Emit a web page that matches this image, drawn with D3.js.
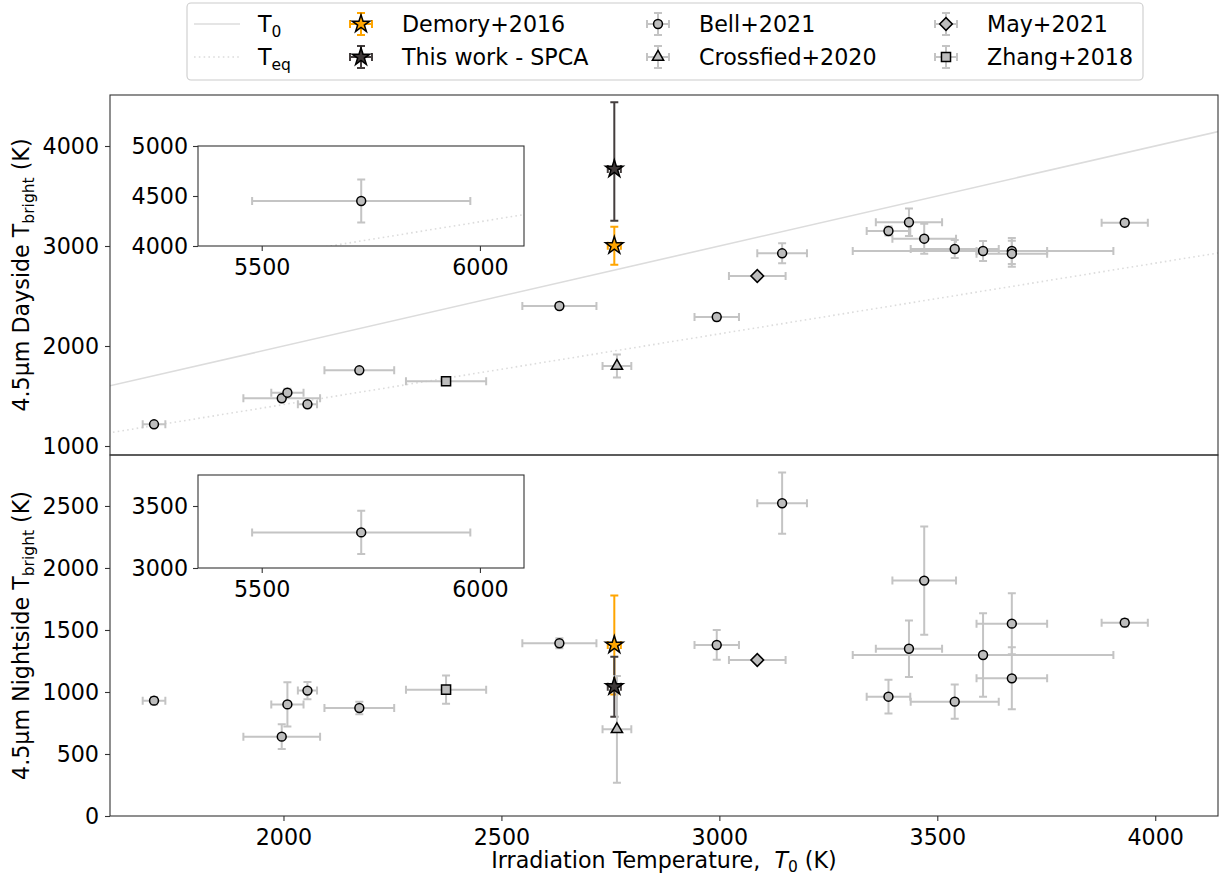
<!DOCTYPE html>
<html>
<head>
<meta charset="utf-8">
<script src="https://cdn.jsdelivr.net/npm/d3@7"></script>
<style>
  body { margin: 0; background: #fff; }
  svg { display: block; font-family: "DejaVu Sans", sans-serif; }
</style>
</head>
<body>
<div id="chart"></div>
<script>
// ---- data ----
// Bell+2021 (last point is the hot planet shown in the insets)
const bellT0       = [1703, 1996, 2009, 2055, 2174, 2633, 2994, 3144, 3388, 3435, 3470, 3540, 3605, 3671, 3671, 3930, 5728];
const bellT0Err    = [26, 88, 37, 22, 80, 85, 51, 57, 50, 76, 73, 101, 299, 81, 81, 53, 250];
const bellDay      = [1217, 1477, 1533, 1417, 1757, 2400, 2290, 2927, 3150, 3237, 3073, 2970, 2950, 2950, 2923, 3233, 4450];
const bellDayErr   = [25, 30, 40, 30, 25, 30, 35, 100, 45, 137, 150, 90, 100, 130, 130, 35, 215];
const bellNight    = [930, 640, 900, 1011, 871, 1393, 1379, 2522, 962, 1349, 1898, 922, 1298, 1551, 1110, 1559, 3287];
const bellNightErr = [30, 100, 178, 70, 50, 40, 120, 247, 136, 228, 436, 138, 336, 246, 250, 30, 175];

const demoryT0 = [2759], demoryT0Err = [15];
const demoryDay = [3003], demoryDayErr = [190];
const demoryNight = [1379], demoryNightErr = [400];

const spcaT0 = [2759], spcaT0Err = [15];
const spcaDay = [3770], spcaDayErrLo = [517], spcaDayErrHi = [667];
const spcaNight = [1043], spcaNightErr = [242];

const crossT0 = [2765], crossT0Err = [33];
const crossDay = [1800], crossDayErr = [115];
const crossNight = [699], crossNightErr = [430];

const mayT0 = [3087], mayT0Err = [65];
const mayDay = [2700], mayDayErr = [20];
const mayNight = [1258], mayNightErr = [18];

const zhangT0 = [2373], zhangT0Err = [92];
const zhangDay = [1647], zhangDayErr = [20];
const zhangNight = [1019], zhangNightErr = [114];

// tick values
const xTicks = [2000, 2500, 3000, 3500, 4000];
const dayTicks = [1000, 2000, 3000, 4000];
const nightTicks = [0, 500, 1000, 1500, 2000, 2500];
const insetXTicks = [5500, 6000];
const insetDayTicks = [4000, 4500, 5000];
const insetNightTicks = [3000, 3500];

// range of the model lines (T0 and Teq = T0/sqrt2)
const modelT0 = [1000, 7000];

// ---- layout ----
const width = 1220, height = 877;
const plotL = 110, plotR = 1218, plotT = 95, plotM = 455, plotB = 816;
const inL = 198, inR = 524;
const fs = 22.2, fsSub = 15.5;
const barGray = "#c4c4c4", markGray = "#bdbdbd", dark = "#3e3838";

const x = d3.scaleLinear([1602, 4144], [plotL, plotR]);
const yDay = d3.scaleLinear([910, 4510], [plotM, plotT]);
const yNight = d3.scaleLinear([0, 2911], [plotB, plotM]);
const xIn = d3.scaleLinear([5354, 6101], [inL, inR]);
const yDayIn = d3.scaleLinear([4000, 5000], [246, 146]);
const yNightIn = d3.scaleLinear([3000, 3750], [568, 475]);

const sym = (type, size) => d3.symbol(type, size)();

const series = [
  {label: "Demory+2016", t0: demoryT0, t0Err: demoryT0Err,
   day: demoryDay, dayLo: demoryDayErr, dayHi: demoryDayErr,
   night: demoryNight, nightErr: demoryNightErr,
   path: sym(d3.symbolStar, 95), rot: 0, fill: "#ffa500", bar: "#ffa500"},
  {label: "This work - SPCA", t0: spcaT0, t0Err: spcaT0Err,
   day: spcaDay, dayLo: spcaDayErrLo, dayHi: spcaDayErrHi,
   night: spcaNight, nightErr: spcaNightErr,
   path: sym(d3.symbolStar, 95), rot: 0, fill: dark, bar: "#443e3e"},
  {label: "Bell+2021", t0: bellT0, t0Err: bellT0Err,
   day: bellDay, dayLo: bellDayErr, dayHi: bellDayErr,
   night: bellNight, nightErr: bellNightErr,
   path: sym(d3.symbolCircle, 62), rot: 0, fill: markGray, bar: barGray},
  {label: "Crossfied+2020", t0: crossT0, t0Err: crossT0Err,
   day: crossDay, dayLo: crossDayErr, dayHi: crossDayErr,
   night: crossNight, nightErr: crossNightErr,
   path: sym(d3.symbolTriangle, 55), rot: 0, fill: markGray, bar: barGray},
  {label: "May+2021", t0: mayT0, t0Err: mayT0Err,
   day: mayDay, dayLo: mayDayErr, dayHi: mayDayErr,
   night: mayNight, nightErr: mayNightErr,
   path: sym(d3.symbolSquare, 80), rot: 45, fill: markGray, bar: barGray},
  {label: "Zhang+2018", t0: zhangT0, t0Err: zhangT0Err,
   day: zhangDay, dayLo: zhangDayErr, dayHi: zhangDayErr,
   night: zhangNight, nightErr: zhangNightErr,
   path: sym(d3.symbolSquare, 82), rot: 0, fill: markGray, bar: barGray}
];

// turn series into flat point lists for one panel
function points(s, key) {
  return s.t0.map((t, i) => ({
    t, te: s.t0Err[i],
    v: key === "day" ? s.day[i] : s.night[i],
    lo: key === "day" ? s.dayLo[i] : s.nightErr[i],
    hi: key === "day" ? s.dayHi[i] : s.nightErr[i],
    s
  }));
}

const svg = d3.create("svg")
    .attr("viewBox", [0, 0, width, height])
    .attr("width", width)
    .attr("height", height);

svg.append("rect").attr("width", width).attr("height", height).attr("fill", "#fff");

let clipN = 0;
function panel(xs, ys, key, withLines, bg) {
  const [x0, x1] = xs.range(), [y1, y0] = ys.range();
  const id = "clip" + (clipN++);
  svg.append("clipPath").attr("id", id)
    .append("rect").attr("x", x0).attr("y", y0).attr("width", x1 - x0).attr("height", y1 - y0);
  if (bg) svg.append("rect").attr("x", x0).attr("y", y0).attr("width", x1 - x0).attr("height", y1 - y0).attr("fill", "#fff");
  const g = svg.append("g").attr("clip-path", `url(#${id})`);

  if (withLines) {
    g.append("line")
      .attr("x1", xs(modelT0[0])).attr("y1", ys(modelT0[0]))
      .attr("x2", xs(modelT0[1])).attr("y2", ys(modelT0[1]))
      .attr("stroke", "#dcdcdc").attr("stroke-width", 1.6);
    g.append("line")
      .attr("x1", xs(modelT0[0])).attr("y1", ys(modelT0[0] / Math.SQRT2))
      .attr("x2", xs(modelT0[1])).attr("y2", ys(modelT0[1] / Math.SQRT2))
      .attr("stroke", "#dcdcdc").attr("stroke-width", 1.6).attr("stroke-dasharray", "1.6,3.2");
  }

  const cap = 4;
  // all error bars first, then all markers
  series.forEach(s => {
    const pts = points(s, key);
    const eb = g.append("g").attr("stroke", s.bar).attr("stroke-width", 2).attr("fill", "none");
    pts.forEach(p => {
      const cx = xs(p.t), cy = ys(p.v);
      const xa = xs(p.t - p.te), xb = xs(p.t + p.te);
      const ya = ys(p.v - p.lo), yb = ys(p.v + p.hi);
      eb.append("path").attr("d",
        `M${xa},${cy}H${xb}M${xa},${cy - cap}V${cy + cap}M${xb},${cy - cap}V${cy + cap}` +
        `M${cx},${ya}V${yb}M${cx - cap},${ya}H${cx + cap}M${cx - cap},${yb}H${cx + cap}`);
    });
  });
  series.forEach(s => {
    g.append("g").selectAll("path")
      .data(points(s, key))
      .join("path")
        .attr("d", s.path)
        .attr("transform", d => `translate(${xs(d.t)},${ys(d.v)}) rotate(${s.rot})`)
        .attr("fill", s.fill)
        .attr("stroke", "#000")
        .attr("stroke-width", 1.5);
  });

  // frame
  svg.append("rect").attr("x", x0).attr("y", y0).attr("width", x1 - x0).attr("height", y1 - y0)
    .attr("fill", "none").attr("stroke", "#333").attr("stroke-width", 1.1);
}

function styleAxis(g) {
  g.select(".domain").remove();
  g.selectAll(".tick line").attr("stroke", "#333").attr("stroke-width", 1.1);
  g.selectAll(".tick text").attr("font-size", fs).attr("fill", "#000")
    .attr("font-family", "DejaVu Sans, sans-serif");
}

// main panels
panel(x, yDay, "day", true, false);
panel(x, yNight, "night", false, false);

svg.append("g").attr("transform", `translate(${plotL},0)`)
  .call(d3.axisLeft(yDay).tickValues(dayTicks).tickSize(5).tickPadding(6).tickFormat(d3.format("d")))
  .call(styleAxis);
svg.append("g").attr("transform", `translate(${plotL},0)`)
  .call(d3.axisLeft(yNight).tickValues(nightTicks).tickSize(5).tickPadding(6).tickFormat(d3.format("d")))
  .call(styleAxis);
svg.append("g").attr("transform", `translate(0,${plotB})`)
  .call(d3.axisBottom(x).tickValues(xTicks).tickSize(5).tickPadding(8).tickFormat(d3.format("d")))
  .call(styleAxis);

// insets
panel(xIn, yDayIn, "day", true, true);
panel(xIn, yNightIn, "night", false, true);
[[yDayIn, insetDayTicks], [yNightIn, insetNightTicks]].forEach(([ys, ticks]) => {
  svg.append("g").attr("transform", `translate(${inL},0)`)
    .call(d3.axisLeft(ys).tickValues(ticks).tickSize(5).tickPadding(5).tickFormat(d3.format("d")))
    .call(styleAxis);
  svg.append("g").attr("transform", `translate(0,${ys.range()[0]})`)
    .call(d3.axisBottom(xIn).tickValues(insetXTicks).tickSize(5).tickPadding(8).tickFormat(d3.format("d")))
    .call(styleAxis);
});

// axis labels
function yLabel(cy, word) {
  const t = svg.append("text")
    .attr("transform", `translate(29,${cy}) rotate(-90)`)
    .attr("text-anchor", "middle").attr("font-size", fs);
  t.append("tspan").text(`4.5µm ${word} T`);
  t.append("tspan").attr("font-size", fsSub).attr("dy", 5).text("bright");
  t.append("tspan").attr("dy", -5).text(" (K)");
}
yLabel((plotT + plotM) / 2, "Dayside");
yLabel((plotM + plotB) / 2, "Nightside");

const xl = svg.append("text")
  .attr("x", (plotL + plotR) / 2).attr("y", 868)
  .attr("text-anchor", "middle").attr("font-size", fs);
xl.append("tspan").text("Irradiation Temperature,\u00a0\u00a0");
xl.append("tspan").attr("font-style", "italic").text("T");
xl.append("tspan").attr("font-size", fsSub).attr("dy", 4).text("0");
xl.append("tspan").attr("dy", -4).text(" (K)");

// legend
const leg = svg.append("g");
leg.append("rect").attr("x", 187).attr("y", 3).attr("width", 956).attr("height", 77).attr("rx", 4)
  .attr("fill", "#fff").attr("stroke", "#cccccc").attr("stroke-width", 1.1);
const rowY = [24, 57];
const lineItems = [{sub: "0", dash: null}, {sub: "eq", dash: "1.6,3.2"}];
lineItems.forEach((it, i) => {
  leg.append("line").attr("x1", 194).attr("x2", 240).attr("y1", rowY[i]).attr("y2", rowY[i])
    .attr("stroke", "#dcdcdc").attr("stroke-width", 1.6).attr("stroke-dasharray", it.dash);
  const t = leg.append("text").attr("x", 258).attr("y", rowY[i] + 8).attr("font-size", fs);
  t.append("tspan").text("T");
  t.append("tspan").attr("font-size", fsSub).attr("dy", 5).text(it.sub);
});
const colX = [[361, 402], [658, 699], [946, 987]];
series.forEach((s, i) => {
  const [hx, tx] = colX[Math.floor(i / 2)];
  const cy = rowY[i % 2];
  const h = 11, cap = 4;
  leg.append("path")
    .attr("d", `M${hx - h},${cy}H${hx + h}M${hx - h},${cy - cap}V${cy + cap}M${hx + h},${cy - cap}V${cy + cap}` +
      `M${hx},${cy - h}V${cy + h}M${hx - cap},${cy - h}H${hx + cap}M${hx - cap},${cy + h}H${hx + cap}`)
    .attr("stroke", s.bar).attr("stroke-width", 2).attr("fill", "none");
  leg.append("path").attr("d", s.path)
    .attr("transform", `translate(${hx},${cy}) rotate(${s.rot})`)
    .attr("fill", s.fill).attr("stroke", "#000").attr("stroke-width", 1.5);
  leg.append("text").attr("x", tx).attr("y", cy + 8).attr("font-size", fs).text(s.label);
});

document.getElementById("chart").appendChild(svg.node());
</script>
</body>
</html>
